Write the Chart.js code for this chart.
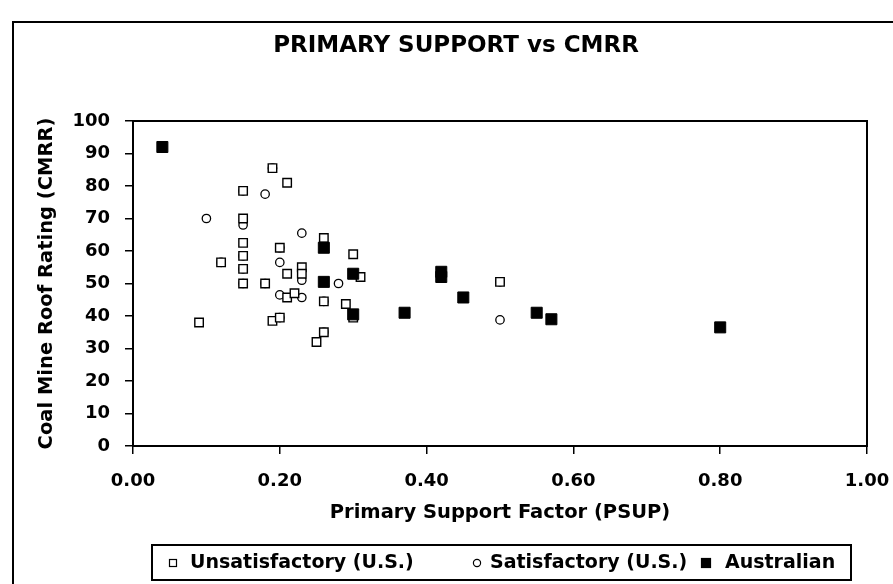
<!DOCTYPE html>
<html>
<head>
<meta charset="utf-8">
<title>Primary Support vs CMRR</title>
<script src="https://cdn.jsdelivr.net/npm/chart.js@4.4.1/dist/chart.umd.min.js"></script>
<style>
  html, body { margin: 0; padding: 0; background: #fff; }
  #chart { display: block; }
</style>
</head>
<body>
<canvas id="chart" width="893" height="584"></canvas>
<script>
// values
const unsatX = [0.19, 0.21, 0.15, 0.15, 0.26, 0.15, 0.20, 0.30, 0.15, 0.12, 0.15, 0.21, 0.23, 0.23, 0.15, 0.18, 0.31, 0.50, 0.21, 0.22, 0.26, 0.29, 0.30, 0.09, 0.19, 0.20, 0.26, 0.25];
const unsatY = [85.5, 81, 78.5, 70, 64, 62.5, 61, 59, 58.5, 56.5, 54.5, 53, 55, 53, 50, 50, 52, 50.5, 45.7, 47, 44.5, 43.7, 39.5, 38, 38.5, 39.5, 35, 32];
const satX = [0.18, 0.10, 0.15, 0.23, 0.20, 0.23, 0.28, 0.20, 0.23, 0.50, 0.19, 0.15, 0.20, 0.15, 0.12, 0.15, 0.15, 0.18, 0.26, 0.20, 0.26, 0.50];
const satY = [77.5, 70, 68, 65.5, 56.5, 51, 50, 46.5, 45.7, 38.8, 85.5, 78.5, 61, 58.5, 56.5, 54.5, 50, 50, 44.5, 39.5, 35, 50.5];
const ausX = [0.04, 0.26, 0.26, 0.30, 0.30, 0.37, 0.42, 0.42, 0.45, 0.55, 0.57, 0.80];
const ausY = [92, 61, 50.5, 53, 40.5, 41, 53.6, 52, 45.7, 41, 39, 36.5];

const seriesLabels = ['Unsatisfactory (U.S.)', 'Satisfactory (U.S.)', 'Australian'];
const chartTitle = 'PRIMARY SUPPORT vs CMRR';
const xTitle = 'Primary Support Factor (PSUP)';
const yTitle = 'Coal Mine Roof Rating (CMRR)';

const FONT = '"DejaVu Sans", "Liberation Sans", Arial, sans-serif';
const toPoints = (xs, ys) => xs.map((x, i) => ({ x: x, y: ys[i] }));

// legend marker / text positions (left to right)
const legendMarkerX = [173, 477, 706];
const legendTextX = [190, 490, 725];

const framePlugin = {
    id: 'frame',
    beforeDraw(chart) {
        const ctx = chart.ctx;
        ctx.save();
        ctx.fillStyle = '#fff';
        ctx.fillRect(0, 0, chart.width, chart.height);
        // outer border of the figure
        ctx.strokeStyle = '#000';
        ctx.lineWidth = 2;
        ctx.beginPath();
        ctx.moveTo(13, chart.height);
        ctx.lineTo(13, 22);
        ctx.lineTo(chart.width, 22);
        ctx.stroke();
        // title
        ctx.fillStyle = '#000';
        ctx.font = 'bold 23px ' + FONT;
        ctx.textAlign = 'center';
        ctx.textBaseline = 'middle';
        ctx.fillText(chartTitle, 456, 46);
        ctx.restore();
    },
    afterDraw(chart) {
        const ctx = chart.ctx;
        const a = chart.chartArea;
        ctx.save();
        ctx.strokeStyle = '#000';
        ctx.lineWidth = 2;
        ctx.strokeRect(a.left, a.top, a.right - a.left, a.bottom - a.top);

        // legend box
        ctx.strokeRect(152, 545, 699, 35);
        ctx.font = 'bold 19px ' + FONT;
        ctx.textBaseline = 'middle';
        ctx.textAlign = 'left';
        const y = 563;
        chart.data.datasets.forEach((ds, i) => {
            const mx = legendMarkerX[i];
            ctx.lineWidth = 1.2;
            ctx.strokeStyle = '#000';
            ctx.fillStyle = ds.backgroundColor;
            if (ds.pointStyle === 'circle') {
                ctx.beginPath();
                ctx.arc(mx, y, 3.6, 0, Math.PI * 2);
                ctx.fill();
                ctx.stroke();
            } else {
                const s = ds.backgroundColor === '#000' ? 9 : 7;
                ctx.fillRect(mx - s / 2, y - s / 2, s, s);
                ctx.strokeRect(mx - s / 2, y - s / 2, s, s);
            }
            ctx.fillStyle = '#000';
            ctx.fillText(ds.label, legendTextX[i], y);
        });
        ctx.restore();
    }
};

const ctx = document.getElementById('chart').getContext('2d');
Chart.defaults.font.family = FONT;
Chart.defaults.font.weight = 'bold';
Chart.defaults.color = '#000';

new Chart(ctx, {
    type: 'scatter',
    data: {
        datasets: [
            {
                label: seriesLabels[0],
                data: toPoints(unsatX, unsatY),
                pointStyle: 'rect',
                pointRadius: 6,
                borderWidth: 1.4,
                borderColor: '#000',
                backgroundColor: '#fff',
                order: 1
            },
            {
                label: seriesLabels[1],
                data: toPoints(satX, satY),
                pointStyle: 'circle',
                pointRadius: 4.2,
                borderWidth: 1.3,
                borderColor: '#000',
                backgroundColor: '#fff',
                order: 2
            },
            {
                label: seriesLabels[2],
                data: toPoints(ausX, ausY),
                pointStyle: 'rect',
                pointRadius: 7.8,
                borderWidth: 1,
                borderColor: '#000',
                backgroundColor: '#000',
                order: 0
            }
        ]
    },
    options: {
        responsive: false,
        animation: false,
        events: [],
        layout: {
            padding: { left: 0, right: 26, top: 121, bottom: 54 }
        },
        plugins: {
            legend: { display: false },
            title: { display: false },
            tooltip: { enabled: false }
        },
        scales: {
            x: {
                type: 'linear',
                min: 0,
                max: 1,
                ticks: {
                    stepSize: 0.2,
                    padding: 17,
                    font: { size: 18, weight: 'bold' },
                    callback: v => Number(v).toFixed(2)
                },
                grid: { drawOnChartArea: false, drawTicks: true, tickLength: 8, color: '#000', lineWidth: 1.5 },
                border: { color: '#000', width: 2 },
                title: {
                    display: true,
                    text: xTitle,
                    font: { size: 19.5, weight: 'bold' },
                    padding: { top: 0, bottom: 5 }
                },
                afterFit: scale => {
                    scale.height = 84;
                    // let the layout padding decide the side margins
                    scale.paddingLeft = 0;
                    scale.paddingRight = 0;
                }
            },
            y: {
                min: 0,
                max: 100,
                ticks: {
                    stepSize: 10,
                    padding: 15,
                    font: { size: 18, weight: 'bold' }
                },
                grid: { drawOnChartArea: false, drawTicks: true, tickLength: 8, color: '#000', lineWidth: 1.5 },
                border: { color: '#000', width: 2 },
                title: {
                    display: true,
                    text: yTitle,
                    font: { size: 19.5, weight: 'bold' },
                    padding: { top: 35, bottom: 0 }
                },
                afterFit: scale => { scale.width = 133; }
            }
        }
    },
    plugins: [framePlugin]
});
</script>
</body>
</html>
